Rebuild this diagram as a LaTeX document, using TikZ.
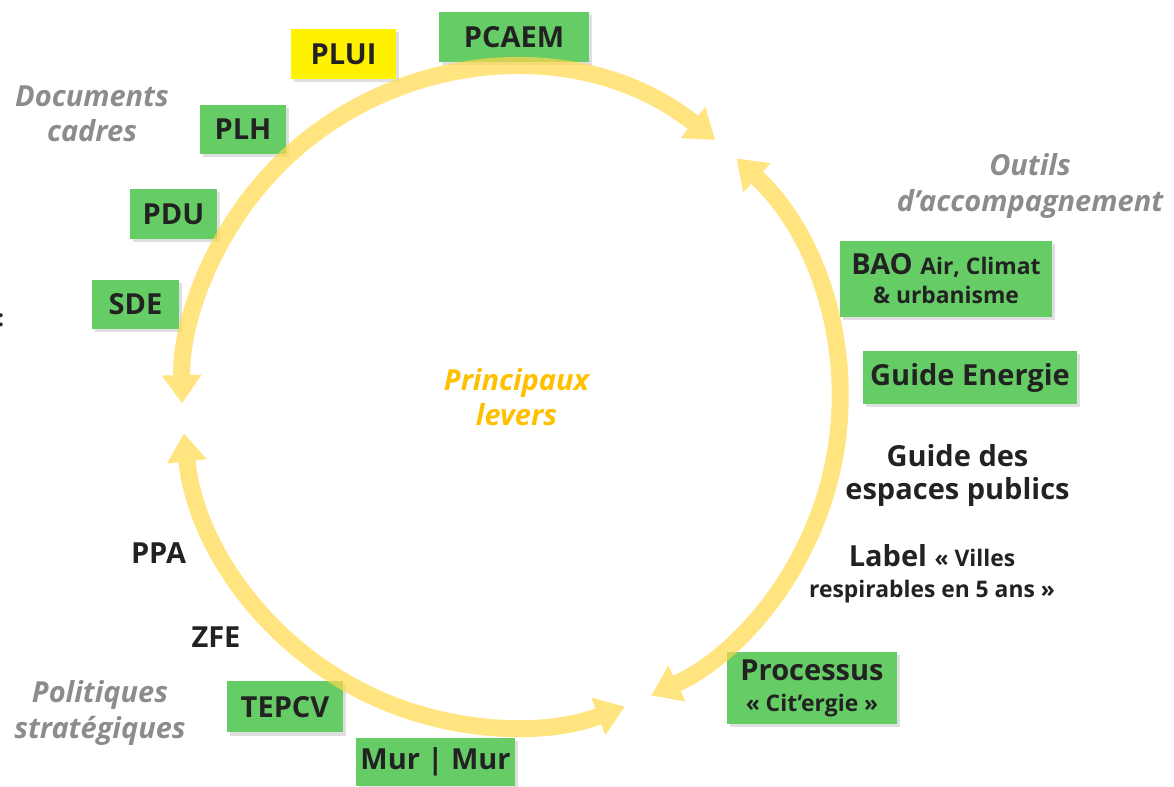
\documentclass[tikz,border=0pt]{standalone}
\usepackage{fontspec}
\setmainfont{Open Sans}
\usetikzlibrary{arrows.meta, calc, shadows}

\definecolor{ringyellow}{HTML}{FFD84A}
\definecolor{levergreen}{HTML}{66CD66}
\definecolor{pluiyellow}{HTML}{FFF200}
\definecolor{sidegray}{HTML}{8C8C8C}
\definecolor{centregold}{HTML}{FFC000}
\definecolor{inkdark}{HTML}{222222}

\newcommand\leverbig{\fontsize{16.5}{17.6}\selectfont\bfseries}
\newcommand\leversmall{\fontsize{13}{15}\selectfont\bfseries}
\newcommand\sidefont{\fontsize{16.5}{20}\selectfont\bfseries\itshape}

\begin{document}
\begin{tikzpicture}[
    lever/.style={fill=levergreen, text=inkdark, inner sep=0pt, align=center,
        font=\leverbig,
        drop shadow={shadow xshift=0.06cm, shadow yshift=-0.07cm, opacity=0.25}},
    plain/.style={text=inkdark, font=\leverbig, align=center},
    side/.style={text=sidegray, font=\sidefont, align=center},
    ring/.style={draw=ringyellow, opacity=0.7, line width=0.34cm,
        {Triangle[width=0.8cm, length=0.56cm, line width=0pt]}-{Triangle[width=0.8cm, length=0.56cm, line width=0pt]}}
]
    \useasboundingbox (0,0) rectangle (23.48,15.74);

    % Radius of the ring
    \def\radius{6.58cm}
    \coordinate (hub) at (10.22,7.78);

    % Documents cadres
    \node[lever, minimum width=3.00cm, minimum height=1.00cm] (pcaem) at (10.28,15.00) {PCAEM};
    \node[lever, fill=pluiyellow, minimum width=2.10cm, minimum height=1.00cm] (plui) at (6.87,14.66) {PLUI};
    \node[lever, minimum width=1.72cm, minimum height=0.98cm] (plh) at (4.86,13.15) {PLH};
    \node[lever, minimum width=1.74cm, minimum height=1.00cm] (pdu) at (3.47,11.46) {PDU};
    \node[lever, minimum width=1.74cm, minimum height=0.98cm] (sde) at (2.71,9.65) {SDE};
    \node[side] (cadres) at (1.84,13.46) {Documents\\cadres};

    % Outils d'accompagnement
    \node[side] (outils) at (20.60,12.02) {Outils\\d’accompagnement};
    \node[lever, minimum width=4.24cm, minimum height=1.52cm] (bao) at (18.92,10.16)
        {BAO {\leversmall Air, Climat}\\[-1pt]{\leversmall \& urbanisme}};
    \node[lever, minimum width=4.28cm, minimum height=1.06cm] (energie) at (19.40,8.19) {Guide Energie};
    \node[plain] (espaces) at (19.15,6.23) {Guide des\\[1pt]espaces publics};
    \node[plain] (villes) at (18.64,4.27) {Label {\leversmall « Villes}\\{\leversmall respirables en 5 ans »}};
    \node[lever, minimum width=3.40cm, minimum height=1.44cm] (citergie) at (16.24,1.98)
        {Processus\\{\leversmall « Cit’ergie »}};

    % Politiques strategiques
    \node[plain] (ppa) at (3.17,4.68) {PPA};
    \node[plain] (zfe) at (4.32,3.00) {ZFE};
    \node[lever, minimum width=2.32cm, minimum height=1.02cm] (tepcv) at (5.70,1.60) {TEPCV};
    \node[lever, minimum width=3.18cm, minimum height=0.96cm] (murmur) at (8.71,0.50) {Mur | Mur};
    \node[side] (politiques) at (2.00,1.48) {Politiques\\stratégiques};

    \node[text=inkdark, font=\leversmall] (colon) at (0.02,9.34) {:};

    % The ring, in three arcs
    \foreach \from/\to in {51.7/180.9, 46.7/-64.7, 186.2/290.2}
        \draw[ring] ($(hub)+(\from:\radius)$) arc[start angle=\from, end angle=\to, radius=\radius];

    \node[side, text=centregold] (levers) at (10.33,7.79) {Principaux\\levers};

\end{tikzpicture}
\end{document}
